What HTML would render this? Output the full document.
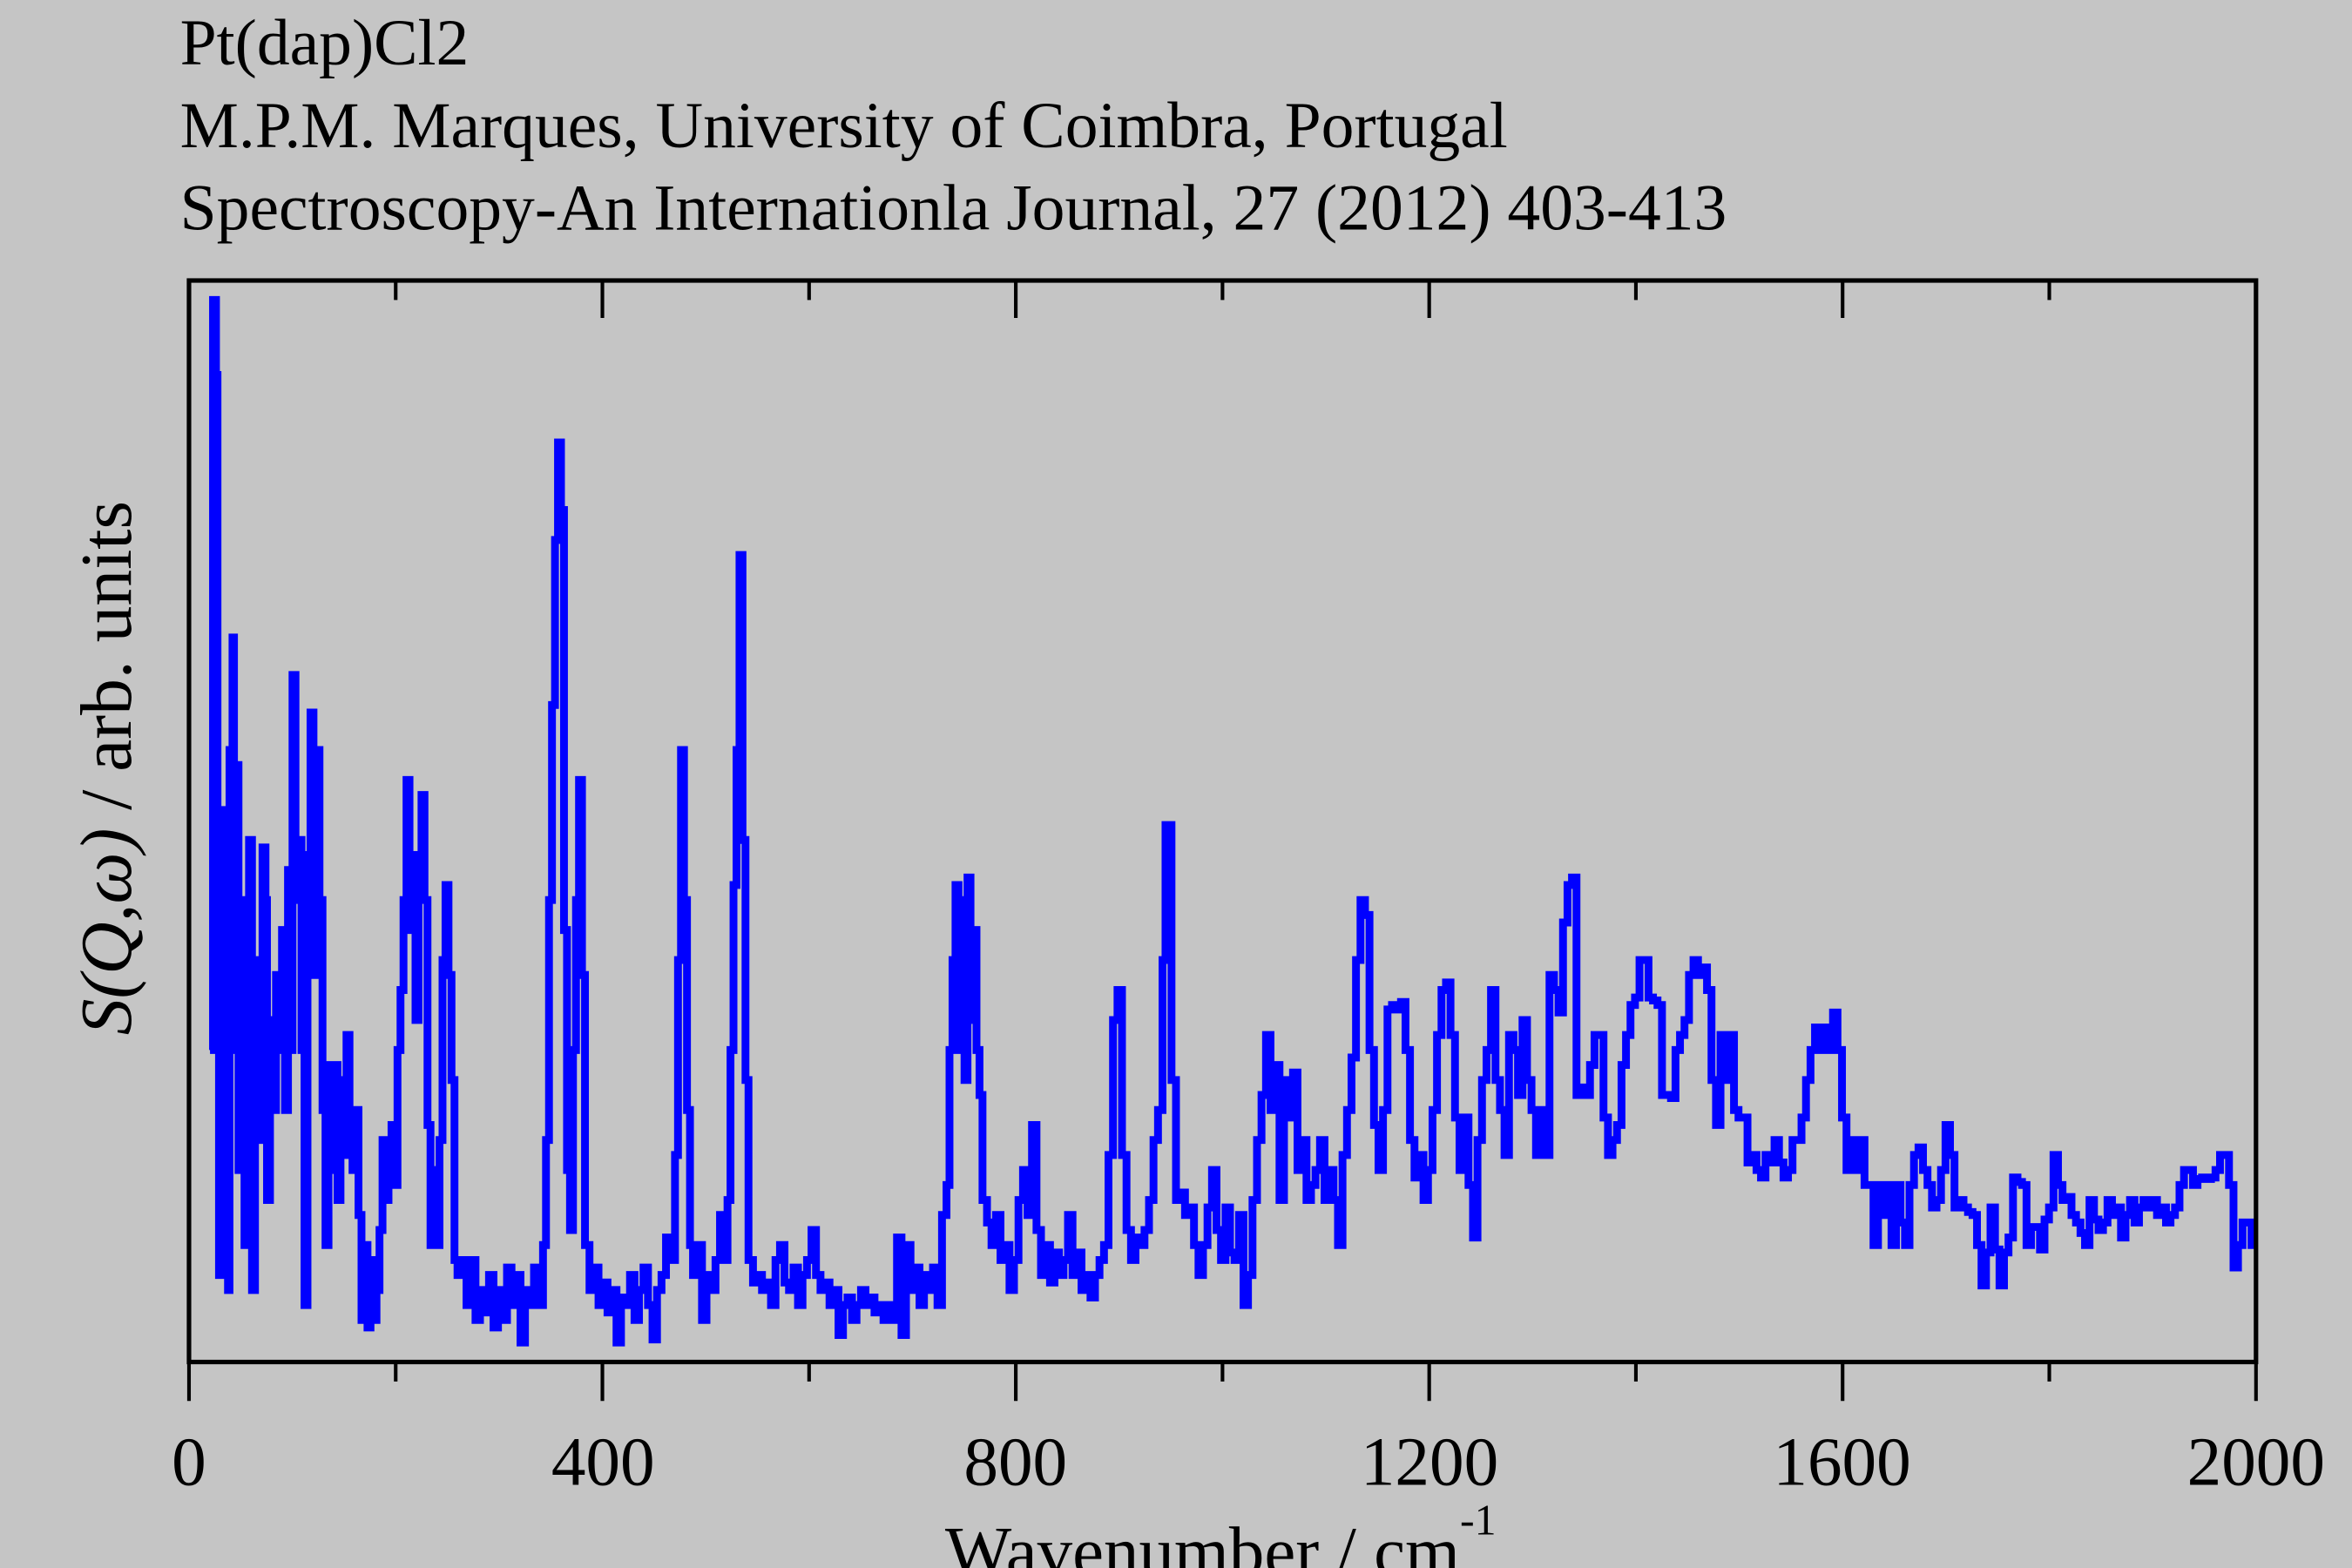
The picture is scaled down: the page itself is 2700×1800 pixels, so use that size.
<!DOCTYPE html>
<html><head><meta charset="utf-8"><style>
html,body{margin:0;padding:0;background:#c5c5c5;}
svg{display:block;}
text{font-family:"Liberation Serif","DejaVu Serif",serif;fill:#000;}
</style></head><body>
<svg id="s" width="2700" height="1800" viewBox="0 0 1568 1045.33" xmlns="http://www.w3.org/2000/svg">
<rect x="0" y="0" width="1568" height="1046" fill="#c5c5c5"/>
<text x="120" y="43" font-size="43.9">Pt(dap)Cl2</text>
<text x="120" y="98" font-size="43.9">M.P.M. Marques, University of Coimbra, Portugal</text>
<text x="120" y="153" font-size="43.9">Spectroscopy-An Internationla Journal, 27 (2012) 403-413</text>
<defs><clipPath id="c"><rect x="126" y="187" width="1378" height="721"/></clipPath></defs>
<path id="p" clip-path="url(#c)" fill="none" stroke="#0000ff" stroke-width="5.2" stroke-linejoin="miter" d=""/>
<rect x="126" y="187" width="1378" height="721" fill="none" stroke="#000" stroke-width="3"/>
<g id="t" stroke="#000" stroke-width="2.4"></g>
<g font-size="46" text-anchor="middle">
<text x="126" y="990">0</text><text x="402" y="990">400</text><text x="677" y="990">800</text>
<text x="953" y="990">1200</text><text x="1228" y="990">1600</text><text x="1504" y="990">2000</text>
</g>
<text x="630" y="1050" font-size="47">Wavenumber / cm<tspan font-size="29" dy="-27">-1</tspan></text>
<text transform="translate(87,512) rotate(-90)" text-anchor="middle" font-size="48.5"><tspan font-style="italic">S(Q,ω)</tspan> / arb. units</text>
</svg>
<script>
var pts=[140,700,142,200,144,250,145,700,146,850,147,540,149,800,150,560,152,860,153,500,154,620,155,425,156,700,158,510,159,780,161,600,163,830,164,680,166,560,168,860,170,690,172,640,174,760,175,565,177,600,178,800,180,680,182,740,184,650,186,700,188,620,190,740,192,580,194,700,195,450,197,600,199,560,201,700,203,870,205,570,207,475,209,650,211,500,213,600,215,740,217,830,219,710,221,780,223,710,225,800,227,720,229,770,231,690,233,760,235,780,237,740,239,810,241,880,243,830,245,885,247,840,249,880,251,860,253,820,255,760,257,800,259,780,261,750,263,790,265,700,267,660,269,600,271,520,273,620,275,570,277,680,279,580,281,530,283,600,285,750,287,830,289,780,291,830,293,760,295,640,297,590,299,650,301,720,303,840,305,850,308,840,311,870,314,840,317,880,320,860,323,875,326,850,329,885,332,860,335,880,338,845,341,870,344,850,347,895,350,860,353,870,356,845,359,870,362,830,364,760,366,600,368,470,370,360,372,295,374,340,376,620,378,780,380,820,382,700,384,600,386,520,388,650,390,830,393,860,396,845,399,870,402,855,405,875,408,860,411,895,414,865,417,870,420,850,423,880,426,860,429,845,432,870,435,893,438,860,441,850,444,825,447,840,450,770,452,640,454,500,456,600,458,740,460,830,462,850,465,830,468,880,471,850,474,860,477,840,480,810,483,840,485,800,487,700,489,590,491,500,493,370,495,560,497,720,499,840,502,855,505,850,508,860,511,855,514,870,517,840,520,830,523,855,526,860,529,845,532,870,535,850,538,840,541,820,544,850,547,860,550,855,553,870,556,860,559,890,562,870,565,865,568,880,571,870,574,860,577,870,580,865,583,875,586,870,589,880,592,870,595,880,598,825,601,890,604,830,607,860,610,845,613,870,616,850,619,860,622,845,625,870,628,810,631,790,633,700,635,640,637,590,639,700,641,600,643,720,645,585,647,680,649,620,651,700,653,730,655,800,658,815,661,830,664,810,667,840,670,830,673,860,676,840,679,800,682,780,685,810,688,750,691,820,694,850,697,830,700,855,703,835,706,850,709,840,712,810,715,850,718,835,721,860,724,850,727,865,730,850,733,840,736,830,739,770,742,680,745,660,748,770,751,820,754,840,757,825,760,830,763,820,766,800,769,760,772,740,775,640,777,550,779,550,781,720,784,800,787,795,790,810,793,805,796,830,799,850,802,830,805,805,808,780,811,820,814,840,817,805,820,835,823,840,826,810,829,870,832,850,835,800,838,760,841,730,844,690,847,740,850,710,853,800,856,720,859,745,862,715,865,780,868,760,871,800,874,790,877,780,880,760,883,800,886,780,889,800,892,830,895,770,898,740,901,705,904,640,907,600,910,610,913,700,916,750,919,780,922,740,925,673,928,670,931,673,934,668,937,700,940,760,943,785,946,770,949,800,952,780,955,740,958,690,961,660,964,655,967,690,970,745,973,780,976,745,979,790,982,825,985,760,988,720,991,700,994,660,997,720,1000,740,1003,770,1006,690,1009,700,1012,730,1015,680,1018,720,1021,740,1024,770,1027,740,1030,770,1033,650,1036,660,1039,675,1042,615,1045,590,1048,585,1051,730,1054,725,1057,730,1060,710,1063,690,1066,690,1069,745,1072,770,1075,760,1078,750,1081,710,1084,690,1087,670,1090,665,1093,640,1096,640,1099,665,1102,667,1105,670,1108,730,1111,730,1114,732,1117,700,1120,690,1123,680,1126,650,1129,640,1132,650,1135,645,1138,660,1141,720,1144,750,1147,690,1150,720,1153,690,1156,740,1159,745,1162,745,1165,775,1168,770,1171,780,1174,785,1177,770,1180,775,1183,760,1186,775,1189,785,1192,780,1195,760,1198,760,1201,745,1204,720,1207,700,1210,685,1213,700,1216,685,1219,700,1222,675,1225,700,1228,745,1231,780,1234,760,1237,780,1240,760,1243,790,1246,790,1249,830,1252,790,1255,810,1258,790,1261,830,1264,790,1267,815,1270,830,1273,790,1276,770,1279,765,1282,780,1285,790,1288,805,1291,800,1294,780,1297,750,1300,770,1303,805,1306,800,1309,805,1312,808,1315,810,1318,830,1321,857,1324,835,1327,805,1330,833,1333,857,1336,835,1339,825,1342,785,1345,788,1348,790,1351,830,1354,818,1357,818,1360,833,1363,813,1366,805,1369,770,1372,790,1375,800,1378,798,1381,810,1384,815,1387,822,1390,830,1393,800,1396,813,1399,820,1402,815,1405,800,1408,810,1411,805,1414,825,1417,810,1420,800,1423,815,1426,805,1429,800,1432,805,1435,800,1438,810,1441,805,1444,815,1447,810,1450,805,1453,790,1456,780,1459,780,1462,790,1465,786,1468,785,1471,786,1474,785,1477,780,1480,770,1483,770,1486,790,1489,845,1492,830,1495,815,1498,815,1501,830,1506,830];
var d="M"+pts[0]+" "+pts[1];
for(var i=2;i<pts.length;i+=2){d+="H"+pts[i]+"V"+pts[i+1];}
document.getElementById("p").setAttribute("d",d);
var g=document.getElementById("t"),h="";
for(var k=0;k<=10;k++){var x=126+k*137.8;var maj=(k%2==0);
h+='<line x1="'+x+'" y1="908" x2="'+x+'" y2="'+(maj?934:921)+'"/>';
h+='<line x1="'+x+'" y1="187" x2="'+x+'" y2="'+(maj?212:200)+'"/>';}
g.innerHTML=h;
</script>
</body></html>
